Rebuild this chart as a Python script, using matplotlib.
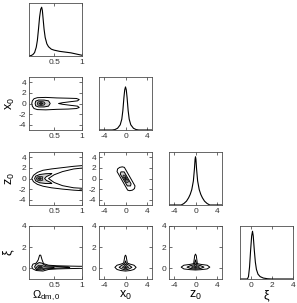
import numpy as np
import matplotlib
matplotlib.use("Agg")
from matplotlib import pyplot as plt
from matplotlib.patches import Polygon

plt.rcParams['font.family'] = ['Liberation Sans', 'DejaVu Sans']
plt.rcParams['mathtext.default'] = 'regular'
plt.rcParams['axes.unicode_minus'] = False

# parameter ranges and ticks
om_lim = (0.05, 1.0)
pos_lim = (-5, 5)
xi_lim = (-1, 4)
om_ticks = [0.5, 1]
om_ticklabels = ['0.5', '1']
pos_ticks = [-4, 0, 4]
pos_yticks = [-4, -2, 0, 2, 4]
xi_ticks = [0, 2, 4]

# 1D marginals (relative to peak)
om_grid = [0.05, 0.09, 0.12, 0.15, 0.18, 0.20, 0.22, 0.24, 0.26, 0.277, 0.29, 0.30,
           0.32, 0.34, 0.37, 0.40, 0.45, 0.50, 0.60, 0.70, 0.80, 0.90, 1.0]
om_pdf = [0, 0.01, 0.03, 0.07, 0.18, 0.32, 0.55, 0.80, 0.96, 1.0, 0.93, 0.80,
          0.55, 0.38, 0.25, 0.19, 0.14, 0.12, 0.095, 0.08, 0.065, 0.04, 0.015]
x0_grid = [-5, -2.5, -2, -1.5, -1.0, -0.7, -0.5, -0.3, -0.15, 0, 0.15, 0.3, 0.5, 0.7, 1.0, 1.5, 2, 2.5, 5]
x0_pdf = [0, 0, 0.01, 0.04, 0.12, 0.25, 0.45, 0.75, 0.93, 1.0, 0.93, 0.75, 0.45, 0.25, 0.12, 0.04, 0.01, 0, 0]
z0_grid = [-5, -2.7, -2.2, -1.7, -1.3, -1.0, -0.7, -0.4, -0.2, -0.08, 0, 0.08, 0.2, 0.4, 0.7, 1.0, 1.3, 1.7, 2.2, 2.7, 5]
z0_pdf = [0, 0, 0.03, 0.08, 0.15, 0.22, 0.32, 0.5, 0.75, 0.95, 1.0, 0.95, 0.75, 0.5, 0.32, 0.22, 0.15, 0.08, 0.03, 0, 0]
xi_grid = [-1, -0.3, -0.2, -0.1, 0, 0.1, 0.18, 0.25, 0.35, 0.45, 0.55, 0.7, 0.9, 1.2, 1.6, 2, 4]
xi_pdf = [0, 0, 0.05, 0.25, 0.6, 0.9, 1.0, 0.9, 0.6, 0.35, 0.2, 0.1, 0.05, 0.02, 0.005, 0, 0]

# 2D contours, outer -> inner (vertices)
om_x0 = [
    [(0.10, 0.0), (0.11, 0.5), (0.14, 0.9), (0.20, 1.1), (0.35, 1.15), (0.55, 1.05), (0.75, 1.0),
     (0.90, 0.95), (0.95, 0.75), (0.92, 0.5), (0.80, 0.35), (0.65, 0.15), (0.58, 0.0), (0.65, -0.15),
     (0.80, -0.35), (0.92, -0.5), (0.95, -0.75), (0.90, -0.95), (0.75, -1.05), (0.55, -1.1),
     (0.35, -1.2), (0.20, -1.15), (0.14, -0.95), (0.11, -0.5)],
    [(0.16, 0.0), (0.17, 0.45), (0.22, 0.65), (0.32, 0.65), (0.40, 0.5), (0.43, 0.0), (0.40, -0.5),
     (0.32, -0.65), (0.22, -0.65), (0.17, -0.45)],
    [(0.20, 0), (0.21, 0.3), (0.26, 0.38), (0.32, 0.3), (0.34, 0), (0.32, -0.3), (0.26, -0.38), (0.21, -0.3)],
    [(0.23, 0), (0.25, 0.17), (0.28, 0.17), (0.30, 0), (0.28, -0.17), (0.25, -0.17)],
]
om_z0 = [
    [(0.10, 0.0), (0.13, 0.6), (0.20, 1.15), (0.30, 1.55), (0.45, 1.8), (0.65, 2.05), (0.85, 2.3),
     (1.08, 2.5), (1.08, 2.05), (0.85, 1.8), (0.65, 1.3), (0.50, 0.7), (0.40, 0.0), (0.50, -0.75),
     (0.65, -1.35), (0.85, -1.75), (1.08, -1.9), (1.08, -2.35), (0.85, -2.2), (0.65, -2.0),
     (0.45, -1.75), (0.30, -1.45), (0.20, -1.1), (0.13, -0.6)],
    [(0.15, 0.0), (0.17, 0.45), (0.24, 0.75), (0.35, 0.9), (0.46, 0.95), (0.44, 0.75), (0.36, 0.35),
     (0.33, 0.0), (0.36, -0.35), (0.44, -0.75), (0.46, -0.95), (0.35, -0.95), (0.24, -0.8), (0.17, -0.45)],
    [(0.18, 0), (0.20, 0.3), (0.25, 0.42), (0.30, 0.3), (0.29, 0), (0.30, -0.3), (0.25, -0.45), (0.20, -0.3)],
    [(0.21, 0), (0.23, 0.15), (0.26, 0.12), (0.27, 0), (0.26, -0.15), (0.23, -0.15)],
]
x0_z0 = [
    [(-1.59, 1.3), (-1.5, 1.8), (-1.1, 2.1), (-0.6, 2.2), (-0.21, 2.1), (1.79, -1.4), (1.7, -1.9),
     (1.3, -2.2), (0.8, -2.3), (0.41, -2.2)],
    [(-1.0, 0.85), (-0.85, 1.25), (-0.25, 1.25), (1.05, -1.0), (0.95, -1.4), (0.35, -1.4)],
    [(-0.5, 0.4), (-0.42, 0.65), (-0.1, 0.62), (0.55, -0.5), (0.47, -0.75), (0.15, -0.72)],
    [(-0.2, 0.25), (-0.05, 0.32), (0.2, -0.25), (0.05, -0.32)],
]
om_xi = [
    [(0.10, 0.15), (0.12, 0.4), (0.18, 0.5), (0.215, 0.8), (0.24, 1.25), (0.26, 1.25), (0.285, 0.8),
     (0.31, 0.45), (0.40, 0.3), (0.55, 0.25), (0.75, 0.22), (0.95, 0.2), (1.08, 0.2), (1.08, -0.02),
     (0.95, 0.0), (0.75, -0.02), (0.55, -0.05), (0.40, -0.1), (0.30, -0.25), (0.18, -0.2), (0.12, -0.05)],
    [(0.15, 0.15), (0.17, 0.35), (0.23, 0.55), (0.28, 0.5), (0.35, 0.25), (0.55, 0.18), (0.75, 0.15),
     (0.78, 0.08), (0.55, 0.02), (0.35, -0.05), (0.28, -0.15), (0.18, -0.1)],
    [(0.18, 0.1), (0.22, 0.3), (0.28, 0.28), (0.35, 0.15), (0.5, 0.12), (0.5, 0.06), (0.32, 0.0),
     (0.25, -0.05), (0.19, 0.0)],
    [(0.21, 0.1), (0.24, 0.2), (0.28, 0.17), (0.29, 0.08), (0.25, 0.02)],
]
x0_xi = [
    [(-2.0, 0.1), (-1.6, 0.3), (-0.9, 0.4), (-0.35, 0.5), (-0.12, 1.15), (0.0, 1.25), (0.12, 1.15),
     (0.35, 0.5), (0.9, 0.4), (1.6, 0.3), (2.0, 0.1), (1.6, -0.1), (0.9, -0.2), (0.0, -0.25),
     (-0.9, -0.2), (-1.6, -0.1)],
    [(-1.2, 0.1), (-0.7, 0.3), (-0.2, 0.4), (0, 0.7), (0.2, 0.4), (0.7, 0.3), (1.2, 0.1), (0.7, -0.05),
     (0, -0.15), (-0.7, -0.05)],
    [(-0.6, 0.1), (-0.2, 0.25), (0, 0.4), (0.2, 0.25), (0.6, 0.1), (0.2, 0.0), (0, -0.05), (-0.2, 0.0)],
    [(-0.2, 0.1), (0, 0.2), (0.2, 0.1), (0, 0.02)],
]
z0_xi = [
    [(-2.7, 0.12), (-2.2, 0.3), (-1.0, 0.38), (-0.35, 0.45), (-0.15, 1.2), (0, 1.35), (0.15, 1.2),
     (0.35, 0.45), (1.0, 0.38), (2.2, 0.3), (2.7, 0.12), (2.2, -0.05), (1.0, -0.12), (0, -0.15),
     (-1.0, -0.12), (-2.2, -0.05)],
    [(-1.6, 0.12), (-1.0, 0.25), (-0.25, 0.35), (0, 0.8), (0.25, 0.35), (1.0, 0.25), (1.6, 0.12),
     (1.0, 0.0), (0, -0.08), (-1.0, 0.0)],
    [(-0.8, 0.12), (-0.2, 0.25), (0, 0.45), (0.2, 0.25), (0.8, 0.12), (0.2, 0.02), (0, 0.0), (-0.2, 0.02)],
    [(-0.25, 0.12), (0, 0.22), (0.25, 0.12), (0, 0.05)],
]

level_fill = ['white', '0.82', '0.55', '0.15']
level_lw = [0.7, 0.7, 0.5, 0.4]

W, H = 297, 303
col_x = [29, 99, 169, 240]
row_y = [3, 77, 152, 226]
size = 53

fig = plt.figure(figsize=(W / 100, H / 100), dpi=100)


def make_ax(r, c):
    ax = fig.add_axes([col_x[c] / W, 1 - (row_y[r] + size) / H, size / W, size / H])
    ax.tick_params(direction='in', length=2, width=0.5, labelsize=6, pad=2,
                   top=True, right=True, colors='0.2')
    for s in ax.spines.values():
        s.set_linewidth(0.6)
        s.set_color('0.3')
    return ax


def set_om_ticks(ax):
    ax.set_xticks(om_ticks)
    ax.set_xticklabels(om_ticklabels)


def plot_1d(ax, grid, pdf, lim, ticks, top):
    ax.plot(grid, pdf, color='k', lw=0.8)
    ax.set_xlim(lim)
    ax.set_ylim(0, top)
    ax.set_xticks(ticks)
    ax.set_yticks([])


def plot_2d(ax, levels, xlim, ylim, xticks, yticks):
    for i, pts in enumerate(levels):
        ax.add_patch(Polygon(pts, closed=True, facecolor=level_fill[i],
                             edgecolor='k', lw=level_lw[i], joinstyle='round'))
    ax.set_xlim(xlim)
    ax.set_ylim(ylim)
    ax.set_xticks(xticks)
    ax.set_yticks(yticks)


ax = make_ax(0, 0)
plot_1d(ax, om_grid, om_pdf, om_lim, om_ticks, 1.087)
set_om_ticks(ax)

ax = make_ax(1, 0)
plot_2d(ax, om_x0, om_lim, pos_lim, om_ticks, pos_yticks)
set_om_ticks(ax)
ax.set_ylabel(r'$x_0$', fontsize=9, labelpad=1)
ax = make_ax(1, 1)
plot_1d(ax, x0_grid, x0_pdf, pos_lim, pos_ticks, 1.23)

ax = make_ax(2, 0)
plot_2d(ax, om_z0, om_lim, pos_lim, om_ticks, pos_yticks)
set_om_ticks(ax)
ax.set_ylabel(r'$z_0$', fontsize=9, labelpad=1)
ax = make_ax(2, 1)
plot_2d(ax, x0_z0, pos_lim, pos_lim, pos_ticks, pos_yticks)
ax = make_ax(2, 2)
plot_1d(ax, z0_grid, z0_pdf, pos_lim, pos_ticks, 1.1)

ax = make_ax(3, 0)
plot_2d(ax, om_xi, om_lim, xi_lim, om_ticks, xi_ticks)
set_om_ticks(ax)
ax.set_ylabel(r'$\xi$', fontsize=9, labelpad=3)
ax.set_xlabel(r'$\Omega_{dm,0}$', fontsize=8, labelpad=0)
ax.xaxis.set_label_coords(0.32, -0.19)
ax = make_ax(3, 1)
plot_2d(ax, x0_xi, pos_lim, xi_lim, pos_ticks, xi_ticks)
ax.set_xlabel(r'$x_0$', fontsize=9, labelpad=0)
ax = make_ax(3, 2)
plot_2d(ax, z0_xi, pos_lim, xi_lim, pos_ticks, xi_ticks)
ax.set_xlabel(r'$z_0$', fontsize=9, labelpad=0)
ax = make_ax(3, 3)
plot_1d(ax, xi_grid, xi_pdf, xi_lim, xi_ticks, 1.11)
ax.set_xlabel(r'$\xi$', fontsize=9, labelpad=0)

fig.savefig('out.png', dpi=100)
